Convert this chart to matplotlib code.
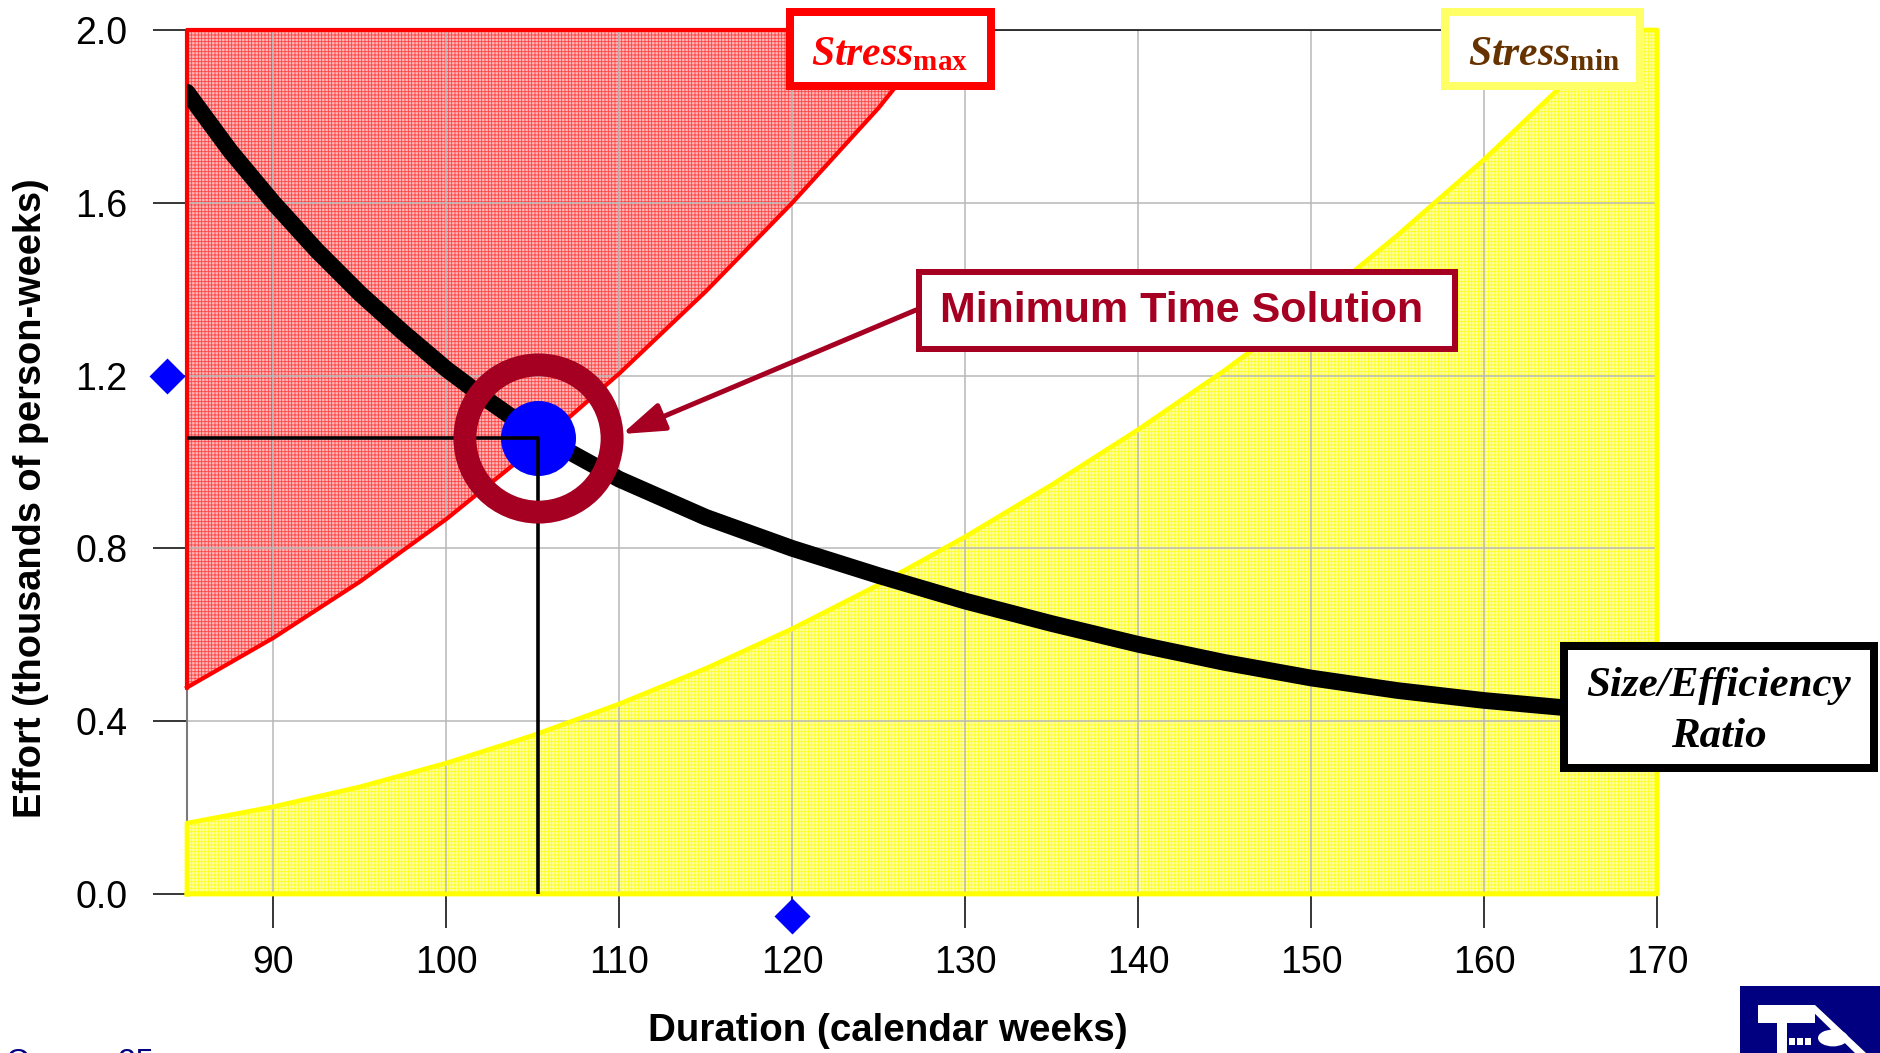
import matplotlib
matplotlib.use("Agg")
import matplotlib.pyplot as plt
from matplotlib.patches import Rectangle, FancyArrowPatch, Polygon, Circle

# ---- data -------------------------------------------------------------
# Size/Efficiency ratio curve: effort (thousands of person-weeks) vs duration
ratio_weeks = [85, 87.5, 90, 92.5, 95, 97.5, 100, 102.5, 105, 110, 115, 120, 125, 130,
               135, 140, 145, 150, 155, 160, 165]
ratio_effort = [1.856, 1.72, 1.60, 1.49, 1.39, 1.30, 1.215, 1.14, 1.07, 0.96, 0.872, 0.80,
                0.737, 0.678, 0.626, 0.578, 0.536, 0.500, 0.471, 0.448, 0.43]

# Upper stress boundary (Stress max)
smax_weeks = [85, 90, 95, 100, 105, 110, 115, 120, 125, 128.6]
smax_effort = [0.478, 0.593, 0.723, 0.868, 1.03, 1.205, 1.395, 1.60, 1.82, 2.0]

# Lower stress boundary (Stress min)
smin_weeks = [85, 90, 95, 100, 105, 110, 115, 120, 125, 130, 135, 140, 145, 150, 155, 160, 165, 167.6]
smin_effort = [0.164, 0.202, 0.248, 0.303, 0.367, 0.440, 0.522, 0.614, 0.716, 0.827, 0.947,
               1.075, 1.212, 1.36, 1.525, 1.70, 1.89, 2.0]

# Minimum time solution and the target markers on the axes
solution_weeks = 105.3
solution_effort = 1.056
target_effort = 1.2
target_weeks = 120

x_ticks = [90, 100, 110, 120, 130, 140, 150, 160, 170]
y_ticks = [0.0, 0.4, 0.8, 1.2, 1.6, 2.0]
y_tick_labels = ["0.0", "0.4", "0.8", "1.2", "1.6", "2.0"]

# ---- figure -----------------------------------------------------------
W, H = 1881, 1053
plt.rcParams["font.family"] = ["Liberation Sans", "DejaVu Sans"]
plt.rcParams["mathtext.fontset"] = "custom"
plt.rcParams["mathtext.it"] = "Liberation Serif:italic:bold"
plt.rcParams["mathtext.rm"] = "Liberation Serif:bold"
plt.rcParams["mathtext.bf"] = "Liberation Serif:bold"
plt.rcParams["hatch.linewidth"] = 0.6

fig = plt.figure(figsize=(W / 100, H / 100), dpi=100)
ax = fig.add_axes([187 / W, 1 - 894 / H, (1657 - 187) / W, 864 / H])
ax.set_xlim(85, 170)
ax.set_ylim(0, 2.0)


def fpos(x, y):
    """Figure-fraction position from pixel coordinates measured from the top-left."""
    return x / W, 1 - y / H


# stress-max region (above the upper boundary)
red_x = smax_weeks + [85]
red_y = smax_effort + [2.0]
ax.fill(red_x, red_y, facecolor="#ffb6b6", edgecolor="none", zorder=1)
ax.fill(red_x, red_y, facecolor="none", edgecolor="#ff4545", hatch="+++++", linewidth=0, zorder=1.1)
ax.plot(red_x + [red_x[0]], red_y + [red_y[0]], color="#ff0000", lw=3.0, clip_on=False, zorder=3)

# stress-min region (below the lower boundary)
yel_x = [85] + smin_weeks + [170, 170]
yel_y = [0] + smin_effort + [2.0, 0]
ax.fill(yel_x, yel_y, facecolor="#ffffa6", edgecolor="none", zorder=1)
ax.fill(yel_x, yel_y, facecolor="none", edgecolor="#ffff20", hatch="+++++", linewidth=0, zorder=1.1)
ax.plot(yel_x + [yel_x[0]], yel_y + [yel_y[0]], color="#ffff00", lw=3.4, clip_on=False, zorder=3)

# grid and axes styling
ax.set_axisbelow("line")
ax.grid(True, color="#b8b8b8", lw=1.1)
ax.set_xticks(x_ticks)
ax.set_yticks(y_ticks)
ax.set_yticklabels(y_tick_labels)
ax.tick_params(axis="both", direction="out", length=24.5, width=1.1, color="black",
               labelsize=27)
ax.tick_params(axis="y", pad=18.5)
ax.tick_params(axis="x", pad=12)
for side in ["top", "right", "bottom"]:
    ax.spines[side].set_color("black")
    ax.spines[side].set_linewidth(1.1)
ax.spines["left"].set_color("#7a7a7a")
ax.spines["left"].set_linewidth(1.5)

# size/efficiency ratio curve
ax.plot(ratio_weeks, ratio_effort, color="black", lw=12, solid_capstyle="round",
        solid_joinstyle="round", zorder=4)

# drop lines from the solution point to the axes
ax.plot([85, solution_weeks, solution_weeks], [solution_effort, solution_effort, 0],
        color="black", lw=2.6, zorder=6)

# solution point and ring
ax.plot([solution_weeks], [solution_effort], "o", ms=54, color="#0000ff", mec="none", zorder=5)
ax.plot([solution_weeks], [solution_effort], "o", ms=106, mfc="none", mec="#a50021",
        mew=16.5, zorder=7)

# target markers on the axes
ax.plot([83.85], [target_effort], "D", ms=18, color="#0000ff", mec="none", clip_on=False, zorder=8)
ax.plot([target_weeks], [-0.05], "D", ms=18, color="#0000ff", mec="none", clip_on=False, zorder=8)

# axis titles
fig.text(*fpos(31, 498), "Effort (thousands of person-weeks)", rotation=90, fontsize=27.4,
         fontweight="bold", ha="center", va="center")
fig.text(*fpos(888, 1031), "Duration (calendar weeks)", fontsize=27.7, fontweight="bold",
         ha="center", va="center")


def frame(x0, y0, x1, y1, color, lw_px):
    """Outlined white box given pixel corners of its outer edge."""
    h = lw_px / 2
    (fx0, fy1) = fpos(x0 + h, y0 + h)
    (fx1, fy0) = fpos(x1 - h, y1 - h)
    fig.patches.append(Rectangle((fx0, fy0), fx1 - fx0, fy1 - fy0, transform=fig.transFigure,
                                 facecolor="white", edgecolor=color, lw=lw_px * 0.72,
                                 joinstyle="miter", zorder=10))


# Stress max label
frame(786, 8, 995, 90, "#ff0000", 8)
fig.text(*fpos(890, 54), r"$\mathit{Stress}_{\mathrm{max}}$", fontsize=30, color="#ff0000",
         ha="center", va="center", zorder=11)

# Stress min label
frame(1441, 8, 1644, 90, "#ffff66", 8)
fig.text(*fpos(1544, 54), r"$\mathit{Stress}_{\mathrm{min}}$", fontsize=30, color="#663300",
         ha="center", va="center", zorder=11)

# Minimum time solution callout
frame(916, 269, 1458, 352, "#a50021", 6)
fig.text(*fpos(1182, 311), "Minimum Time Solution", fontsize=31, fontweight="bold",
         color="#a50021", ha="center", va="center", zorder=11)
arrow = FancyArrowPatch(fpos(916, 310), fpos(622, 434), transform=fig.transFigure,
                        arrowstyle="-|>,head_length=0.65,head_width=0.22", mutation_scale=40,
                        color="#a50021", lw=3.6, shrinkA=0, shrinkB=0, zorder=9)
fig.patches.append(arrow)

# Size/Efficiency ratio label
frame(1560, 642, 1878, 772, "black", 8)
fig.text(*fpos(1719, 686), "Size/Efficiency", fontsize=31, fontweight="bold", fontstyle="italic",
         family="Liberation Serif", ha="center", va="center", zorder=11)
fig.text(*fpos(1719, 737), "Ratio", fontsize=31, fontweight="bold", fontstyle="italic",
         family="Liberation Serif", ha="center", va="center", zorder=11)

# page number at the bottom edge
fig.text(*fpos(6, 1048), "Course 25", fontsize=23, color="#000080", ha="left", va="top")

# logo in the lower-right corner
navy = "#000080"
fig.patches.append(Rectangle(fpos(1740, 1053), (1881 - 1740) / W, (1053 - 986) / H,
                             transform=fig.transFigure, facecolor=navy, edgecolor="none"))
white_shapes = [
    [(1758, 1005), (1815, 1005), (1815, 1023), (1758, 1023)],
    [(1777, 1023), (1787, 1023), (1787, 1053), (1777, 1053)],
    [(1789, 1038), (1795, 1038), (1795, 1045), (1789, 1045)],
    [(1797, 1038), (1803, 1038), (1803, 1045), (1797, 1045)],
    [(1805, 1038), (1811, 1038), (1811, 1045), (1805, 1045)],
    [(1806, 1005), (1815, 1005), (1866, 1053), (1855, 1053)],
]
for shape in white_shapes:
    fig.patches.append(Polygon([fpos(x, y) for x, y in shape], closed=True,
                               transform=fig.transFigure, facecolor="white", edgecolor="none"))
fig.patches.append(Circle(fpos(1833, 1038), 15 / W, transform=fig.transFigure,
                          facecolor="white", edgecolor="none"))

fig.savefig("out.png", dpi=100)
